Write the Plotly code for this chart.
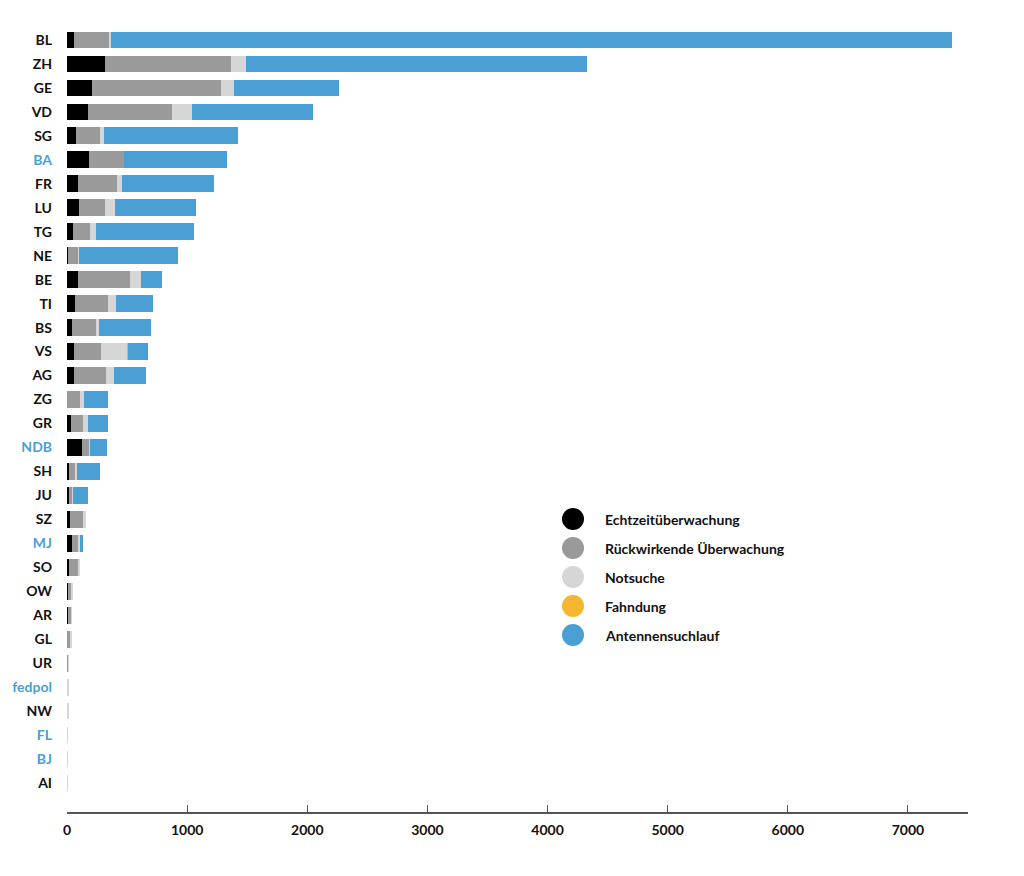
import plotly.graph_objects as go

categories = ["BL", "ZH", "GE", "VD", "SG", "BA", "FR", "LU", "TG", "NE", "BE", "TI", "BS", "VS", "AG",
              "ZG", "GR", "NDB", "SH", "JU", "SZ", "MJ", "SO", "OW", "AR", "GL", "UR", "fedpol", "NW",
              "FL", "BJ", "AI"]
federal = ["BA", "NDB", "MJ", "fedpol", "FL", "BJ"]

echtzeit = [56, 314, 208, 172, 72, 181, 89, 100, 50, 11, 89, 69, 44, 61, 56,
            3, 36, 122, 14, 19, 22, 39, 14, 11, 5, 3, 2, 1, 1, 0, 0, 0]
rueckwirkend = [300, 1047, 1070, 706, 206, 291, 328, 217, 144, 81, 433, 270, 200, 225, 269,
                103, 95, 67, 55, 23, 111, 58, 75, 28, 30, 30, 12, 4, 5, 3, 3, 1]
notsuche = [13, 125, 111, 161, 33, 0, 41, 83, 50, 8, 92, 69, 25, 217, 67,
            33, 41, 5, 12, 11, 23, 14, 22, 11, 3, 3, 2, 4, 3, 2, 2, 1]
fahndung = [0, 0, 0, 0, 0, 0, 0, 0, 0, 0, 0, 0, 0, 3, 0,
            0, 0, 0, 0, 0, 0, 0, 0, 0, 0, 0, 0, 0, 0, 0, 0, 0]
antennen = [7000, 2842, 872, 1011, 1114, 861, 764, 675, 817, 822, 175, 309, 434, 169, 264,
            203, 167, 137, 191, 122, 0, 22, 0, 0, 0, 0, 0, 0, 0, 0, 0, 0]

series_names = ["Echtzeitüberwachung", "Rückwirkende Überwachung", "Notsuche", "Fahndung", "Antennensuchlauf"]
series_values = [echtzeit, rueckwirkend, notsuche, fahndung, antennen]
colors = ["#000000", "#9a9a9a", "#d6d6d6", "#f6b52e", "#4a9fd5"]
x_ticks = [0, 1000, 2000, 3000, 4000, 5000, 6000, 7000]

FONT = "Lato"
fig = go.Figure()
for name, vals, col in zip(series_names, series_values, colors):
    fig.add_trace(go.Bar(
        y=categories, x=vals, name=name, orientation="h",
        marker=dict(color=col, line=dict(width=0)), width=0.7, showlegend=False,
    ))

ticktext = [f"<span style='color:#4a9fd5'>{c}</span>" if c in federal else c for c in categories]

fig.update_layout(
    barmode="stack",
    width=1024, height=876,
    margin=dict(l=67, r=56, t=28, b=64),
    paper_bgcolor="white", plot_bgcolor="white",
    font=dict(family=FONT, size=13, color="#111"),
    xaxis=dict(range=[0, 7500], tickvals=x_ticks, ticktext=[str(t) for t in x_ticks],
               showgrid=False, zeroline=False, showline=True, linecolor="#555", linewidth=1.5,
               ticks="inside", ticklen=7, tickwidth=1.2, tickcolor="#555", ticklabelstandoff=4,
               tickfont=dict(family=FONT, size=14, color="#111", weight="bold")),
    yaxis=dict(categoryorder="array", categoryarray=categories, tickvals=categories, ticktext=ticktext,
               range=[32.21, -0.5], showgrid=False, zeroline=False, showline=False,
               ticks="", ticklabelstandoff=14,
               tickfont=dict(family=FONT, size=14, color="#111", weight="bold")),
)

# legend drawn as circles + labels
pw = 1024 - 67 - 56
ph = 876 - 28 - 64
for i, (name, col) in enumerate(zip(series_names, colors)):
    yc = 519 + 29 * i
    ypaper = (876 - 64 - yc) / ph
    xpaper = (573 - 67) / pw
    r_x = 11 / pw
    r_y = 11 / ph
    fig.add_shape(type="circle", xref="paper", yref="paper",
                  x0=xpaper - r_x, x1=xpaper + r_x, y0=ypaper - r_y, y1=ypaper + r_y,
                  fillcolor=col, line=dict(width=0))
    fig.add_annotation(xref="paper", yref="paper", x=(603 - 67) / pw, y=ypaper,
                       text=name, showarrow=False, xanchor="left", yanchor="middle",
                       font=dict(family=FONT, size=14, color="#111", weight="bold"))

fig.write_html("out.html")
